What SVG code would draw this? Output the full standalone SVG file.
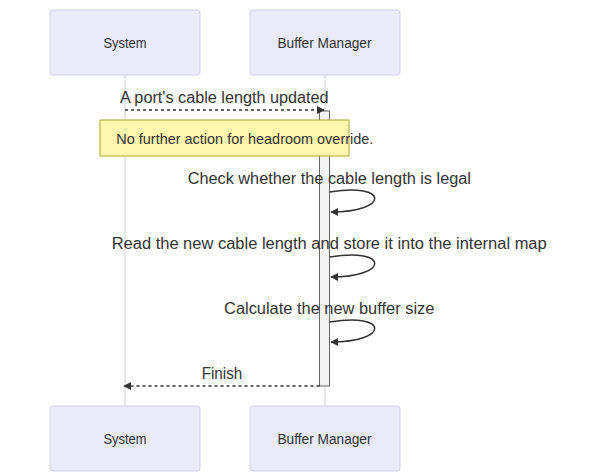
<svg xmlns="http://www.w3.org/2000/svg" width="598" height="472" viewBox="0 0 598 472">
<style>
.actor{fill:#eaeafa;stroke:#d3cdf2;stroke-width:1}
.atext{font-family:"Liberation Sans",Arial,sans-serif;font-size:14px;fill:#333;text-anchor:middle;dominant-baseline:central}
.life{stroke:#cccccc;stroke-width:1}
.msg{font-family:"Liberation Sans",Arial,sans-serif;font-size:16px;fill:#333;text-anchor:middle;dominant-baseline:central}
.dash{stroke:#333;stroke-width:1.5;stroke-dasharray:3,3;fill:none}
.solid{stroke:#333;stroke-width:1.5;fill:none}
.note{fill:#fff5ad;stroke:#aaaa33;stroke-width:1}
.ntext{font-family:"Liberation Sans",Arial,sans-serif;font-size:14.5px;fill:#333;dominant-baseline:central}
.act{fill:#f4f4f4;stroke:#666;stroke-width:1}
</style>
<defs>
<marker id="arrow" viewBox="0 0 10 10" refX="9" refY="5" markerWidth="8" markerHeight="8" markerUnits="userSpaceOnUse" orient="auto">
<path d="M0,0 L10,5 L0,10 z" fill="#333"/>
</marker>
</defs>
<rect width="598" height="472" fill="#fff"/>
<g id="lifelines">
<line class="life" x1="125" y1="75" x2="125" y2="406"/>
<line class="life" x1="325" y1="75" x2="325" y2="406"/>
</g>
<g id="system-top"><rect class="actor" x="50" y="10" width="150" height="65" rx="3"/><text class="atext" x="125" y="42.5" textLength="43" lengthAdjust="spacingAndGlyphs">System</text></g>
<g id="buffer-top"><rect class="actor" x="250" y="10" width="150" height="65" rx="3"/><text class="atext" x="324.5" y="42.5" textLength="94" lengthAdjust="spacingAndGlyphs">Buffer Manager</text></g>
<g id="system-bottom"><rect class="actor" x="50" y="406" width="150" height="65" rx="3"/><text class="atext" x="125" y="438.5" textLength="43" lengthAdjust="spacingAndGlyphs">System</text></g>
<g id="buffer-bottom"><rect class="actor" x="250" y="406" width="150" height="65" rx="3"/><text class="atext" x="324.5" y="438.5" textLength="94" lengthAdjust="spacingAndGlyphs">Buffer Manager</text></g>
<g id="activation"><rect class="act" x="319.5" y="111" width="10" height="275"/></g>
<g id="note"><rect class="note" x="100" y="120" width="249" height="36"/><text class="ntext" x="116.3" y="138.5" textLength="257" lengthAdjust="spacingAndGlyphs">No further action for headroom override.</text></g>
<g id="connectors">
<path class="dash" d="M125,110 L324,110" marker-end="url(#arrow)"/>
<path class="solid" d="M329.5,192 C389.5,182 389.5,212 331,212" marker-end="url(#arrow)"/>
<path class="solid" d="M329.5,257 C389.5,247 389.5,277 331,277" marker-end="url(#arrow)"/>
<path class="solid" d="M329.5,322 C389.5,312 389.5,342 331,342" marker-end="url(#arrow)"/>
<path class="dash" d="M319.5,386 L124,386" marker-end="url(#arrow)"/>
</g>
<g id="labels">
<text class="msg" x="224.3" y="97" textLength="208.7" lengthAdjust="spacingAndGlyphs">A port's cable length updated</text>
<text class="msg" x="329.3" y="178.5" textLength="283.3" lengthAdjust="spacingAndGlyphs">Check whether the cable length is legal</text>
<text class="msg" x="329.2" y="243.5" textLength="435" lengthAdjust="spacingAndGlyphs">Read the new cable length and store it into the internal map</text>
<text class="msg" x="329.2" y="308.5" textLength="210.3" lengthAdjust="spacingAndGlyphs">Calculate the new buffer size</text>
<text class="msg" x="222" y="373.5" textLength="40.6" lengthAdjust="spacingAndGlyphs">Finish</text>
</g>
</svg>
